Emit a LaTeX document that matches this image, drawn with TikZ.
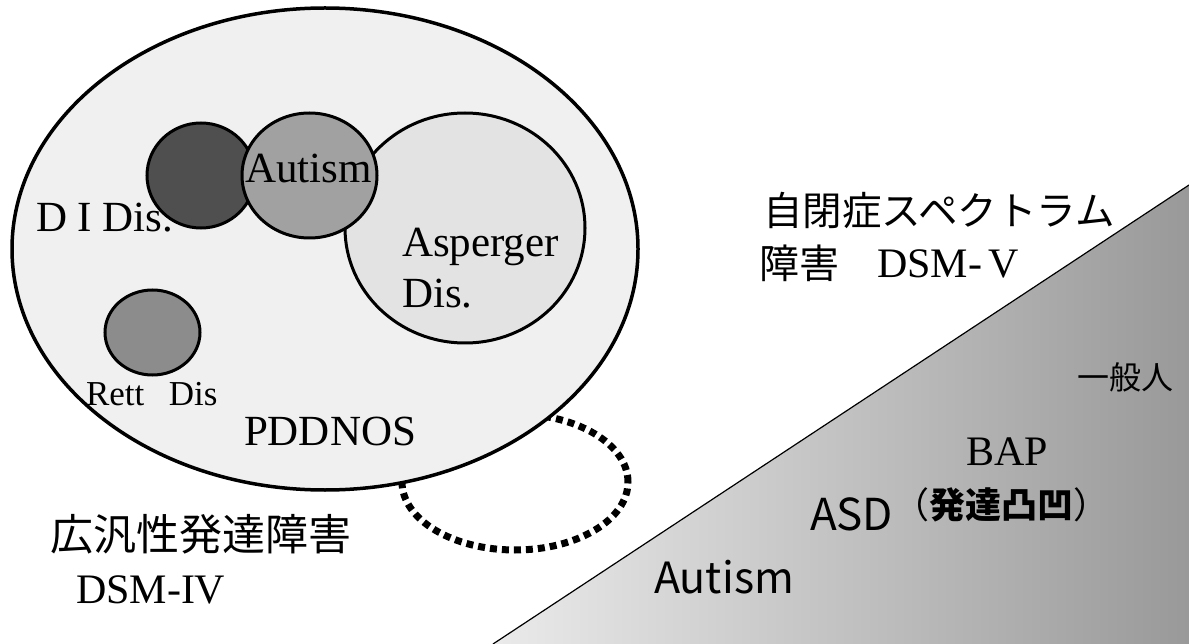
\documentclass[tikz,border=0pt]{standalone}
\usepackage{fontspec}
\setmainfont{Liberation Serif}
\newfontfamily\jp{Noto Sans CJK JP}
\usetikzlibrary{shapes.geometric}
\newcommand\myfs[1]{\fontsize{#1}{#1}\selectfont}
\begin{document}
\begin{tikzpicture}[x=1pt,y=-1pt,
  blob/.style={ellipse, draw=black, line width=3pt, inner sep=0pt, outer sep=0pt},
  lbl/.style={anchor=base west, inner sep=0pt, outer sep=0pt},
  dotring/.style={ellipse, draw=black, line width=7pt, dash pattern=on 7pt off 5pt, inner sep=0pt}
]
\useasboundingbox (0,0) rectangle (1189,644);
\fill[white] (0,0) rectangle (1189,644);

% gradient triangle (DSM-V spectrum)
\coordinate (t1) at (493,644);
\coordinate (t2) at (1189,185);
\coordinate (t3) at (1189,644);
\shade[left color=black!8, right color=black!40] (t1) -- (t2) -- (t3) -- cycle;
\draw[line width=1.2pt] (t1) -- (t2);

% dotted ring (behind the big ellipse)
\node[dotring, minimum width=226pt, minimum height=136pt] (ring) at (515,482) {};

% big ellipse and inner circles
\node[blob, line width=3.5pt, fill=black!6, minimum width=626pt, minimum height=482pt] (outer) at (325,249) {};
\node[blob, fill=black!11, minimum width=240pt, minimum height=230pt] (asp) at (465,228) {};
\node[blob, fill=black!69, minimum width=108pt, minimum height=105pt] (did) at (201,175.5) {};
\node[blob, fill=black!37, minimum width=135pt, minimum height=125pt] (aut) at (309.5,175.5) {};
\node[blob, fill=black!45, minimum width=95pt, minimum height=85pt] (rett) at (152.5,332.5) {};

% labels inside
\node[lbl, font=\myfs{43}] (tdid) at (36,232) {D I Dis.};
\node[lbl, font=\myfs{43}] (taut) at (245,183) {Autism};
\node[lbl, font=\myfs{43}] (tasp1) at (402,257) {Asperger};
\node[lbl, font=\myfs{43}] (tasp2) at (402,308) {Dis.};
\node[lbl, font=\myfs{35}] (trett) at (86,405) {Rett\hspace{0.7em}Dis};
\node[lbl, font=\myfs{43}] (tpdd) at (244,445) {PDDNOS};

% DSM-IV label
\node[lbl, font=\jp\myfs{43}] (tpdd4a) at (50,550) {広汎性発達障害};
\node[lbl, font=\myfs{42}] (tpdd4b) at (76,603) {DSM-IV};

% DSM-V label
\node[lbl, font=\jp\myfs{39.5}] (tasd1) at (763,226) {自閉症スペクトラム};
\node[lbl, font=\jp\myfs{40}] (tasd2) at (759,279) {障害};
\node[lbl, font=\myfs{42}] (tasd3) at (877,278) {DSM-\,V};

% labels in the triangle
\node[lbl, font=\jp\myfs{32}] (tgen) at (1077,389) {一般人};
\node[lbl, font=\myfs{42}] (tbap) at (966,465) {BAP};
\node[lbl, font=\jp\myfs{44}] (tasd) at (810,530) {ASD};
\node[lbl, font=\jp\myfs{36}] (thattatsu) at (893,518) {（\textbf{発達凸凹}）};
\node[lbl, font=\jp\myfs{43}] (taut2) at (654,593) {Autism};
\end{tikzpicture}
\end{document}
